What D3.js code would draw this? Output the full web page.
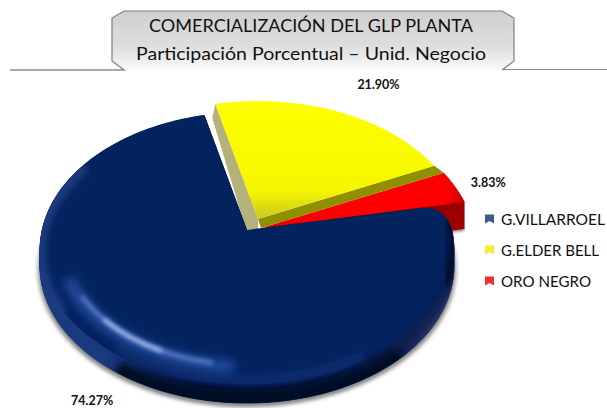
<!DOCTYPE html>
<!-- tilted 3D style pie, d3.pie gives the angles and each wedge is projected by hand -->
<html>
<head>
<meta charset="utf-8">
<style>
  html, body { margin: 0; padding: 0; background: #fff; }
  text { font-family: Lato, "Open Sans", sans-serif; fill: #111; }
</style>
</head>
<body>
<div id="graph_div"></div>

<script src="https://d3js.org/d3.v7.min.js"></script>

<script>

// data
const categories = ["G.VILLARROEL", "G.ELDER BELL", "ORO NEGRO"];
const values = [74.27, 21.90, 3.83];
const value_labels = ["74.27%", "21.90%", "3.83%"];
const title_lines = ["COMERCIALIZACIÓN DEL GLP PLANTA", "Participación Porcentual – Unid. Negocio"];

const width = 607, height = 408;

// look of each slice, same order as categories
const top_colors = ["#03235f", "#ffff00", "#fa0000"];
const legend_colors = ["#3c5a92", "#eeee30", "#f03030"];
const legend_widths = [104, 98, 90];
const title_widths = [324, 350];
const slice_shift = [[0, 0], [11, -11], [14, -2]];
const slice_radius = [1, 1, 1.04];
const slice_depth = [18, 0, 27];
const label_shift = [[-30, 48], [52, -33], [54, -3]];

const center = {x: 247, y: 230};
const rx = 205, ry = 134, persp = 0.1355;
const start_angle = 79 * Math.PI / 180;
const deg = Math.PI / 180;

let svg = d3.select("#graph_div").append("svg")
    .attr("width", width)
    .attr("height", height)
    .style("display", "block");
let defs = svg.append("defs");

function add_gradient(id, stops, horizontal) {
  let g = defs.append("linearGradient").attr("id", id)
    .attr("x1", 0).attr("y1", 0)
    .attr("x2", horizontal ? 1 : 0).attr("y2", horizontal ? 0 : 1);
  stops.forEach(s => g.append("stop").attr("offset", s[0]).attr("stop-color", s[1]));
}
add_gradient("box_fill", [[0, "#cfcfcf"], [0.6, "#dedede"], [1, "#fafafa"]], false);
add_gradient("navy_rim", [[0, "#1a3a80"], [0.15, "#1a3a80"], [0.4, "#02103a"], [0.85, "#081a4c"], [1, "#3e4a70"]], true);
add_gradient("red_rim", [[0, "#7a0000"], [0.7, "#8a0000"], [1, "#a00000"]], true);
add_gradient("red_top", [[0, "#e00000"], [0.3, "#ff0000"], [0.9, "#ff0000"], [1, "#c80000"]], true);
add_gradient("yellow_edge", [[0, "#ffff00"], [0.75, "#f6f600"], [1, "#c9c920"]], false);

[["blur1", 1], ["blur2", 2], ["blur3", 3], ["blur5", 5]].forEach(b => {
  defs.append("filter").attr("id", b[0])
    .attr("x", "-30%").attr("y", "-30%").attr("width", "160%").attr("height", "160%")
    .append("feGaussianBlur").attr("stdDeviation", b[1]);
});

// title box
let box_x = [112, 514], box_y = [11, 70], cut = 12;
let box_pts = [
  [box_x[0], box_y[1] - 9], [box_x[0], box_y[0] + 7], [box_x[0] + cut, box_y[0]],
  [box_x[1] - cut, box_y[0]], [box_x[1], box_y[0] + 7], [box_x[1], box_y[1] - 9],
  [box_x[1] - cut, box_y[1]], [box_x[0] + cut, box_y[1]]
];
svg.append("path")
    .attr("d", d3.line()(box_pts) + "Z")
    .attr("fill", "url(#box_fill)");
svg.append("path")
    .attr("d", d3.line()(box_pts.slice(0, 7)))
    .attr("fill", "none")
    .attr("stroke", "#7f7f7f")
    .attr("stroke-width", 1.2);
svg.append("path")
    .attr("d", d3.line()([[10, 70], [box_x[0] + cut, 70], [box_x[0], box_y[1] - 9]]))
    .attr("fill", "none").attr("stroke", "#8c8c8c").attr("stroke-width", 1.5);
svg.append("path")
    .attr("d", d3.line()([[box_x[1] - cut, 69.5], [width, 69.5]]))
    .attr("fill", "none").attr("stroke", "#8c8c8c").attr("stroke-width", 1);

svg.selectAll(".title_line")
  .data(title_lines)
  .enter().append("text")
    .attr("class", "title_line")
    .attr("x", 311)
    .attr("y", (d, i) => 32 + i * 28)
    .attr("text-anchor", "middle")
    .attr("font-size", 18)
    .attr("textLength", (d, i) => title_widths[i])
    .attr("lengthAdjust", "spacingAndGlyphs")
    .text(d => d);

// the tilted disc: angle and radius fraction to screen position
function project(angle, r) {
  let u = Math.sin(angle) * r,
      v = -Math.cos(angle) * r,
      s = 1 / (1 - persp * v);
  return [center.x + u * rx * s, center.y + v * ry * s];
}

function shifted(p, shift, dy) {
  return [p[0] + shift[0], p[1] + shift[1] + (dy || 0)];
}

function arc_points(a0, a1, r) {
  let n = Math.max(4, Math.ceil(Math.abs(a1 - a0) * 40));
  return d3.range(n + 1).map(i => project(a0 + (a1 - a0) * i / n, r));
}

function wedge_path(d, i, dy) {
  let pts = [[center.x, center.y]].concat(arc_points(d.startAngle, d.endAngle, slice_radius[i]));
  return d3.line()(pts.map(p => shifted(p, slice_shift[i], dy))) + "Z";
}

// the big slice has a rounded outer corner where it meets the red lip
function navy_path(d, dy) {
  let round = 10 * deg,
      a = shifted(project(d.startAngle, 0.88), [0, 0], dy),
      c = shifted(project(d.startAngle, 1), [0, 0], dy),
      b = shifted(project(d.startAngle + round, 1), [0, 0], dy),
      rest = arc_points(d.startAngle + round, d.endAngle, 1).map(p => [p[0], p[1] + dy]);
  return "M" + center.x + "," + (center.y + dy) +
    "L" + a + "Q" + c + " " + b +
    d3.line()(rest).replace("M", "L") + "Z";
}

let pie = d3.pie()
    .sort(null)
    .startAngle(start_angle)
    .endAngle(start_angle + 2 * Math.PI)
    .value(d => d);
let slices = pie(values);
let navy = slices[0], yellow = slices[1], red = slices[2];

let chart = svg.append("g").attr("id", "pie");

// soft grey shadow under the big slice and the red lip
[-2, 2].forEach(dx => {
  chart.append("path")
      .attr("transform", "translate(" + dx + ",0)")
      .attr("d", navy_path(navy, slice_depth[0] + 3))
      .attr("fill", "#8a8a8a")
      .attr("filter", "url(#blur2)");
});
chart.append("path")
    .attr("d", wedge_path(red, 2, slice_depth[2] + 2))
    .attr("fill", "#999")
    .attr("filter", "url(#blur1)");

// red slice
chart.append("g").selectAll("path")
  .data(d3.range(slice_depth[2], 0, -1))
  .enter().append("path")
    .attr("d", dy => wedge_path(red, 2, dy))
    .attr("fill", "url(#red_rim)");
chart.append("path")
    .attr("d", wedge_path(red, 2, 0))
    .attr("fill", "url(#red_top)");

// yellow slice with its two cut walls
let y_apex = shifted([center.x, center.y], slice_shift[1]),
    y_tip = shifted(project(yellow.startAngle, 1), slice_shift[1]),
    y_corner = shifted(project(yellow.endAngle, 1), slice_shift[1]),
    r_apex = shifted([center.x, center.y], slice_shift[2]),
    r_corner = shifted(project(red.startAngle, slice_radius[2]), slice_shift[2]);
chart.append("path")
    .attr("d", d3.line()([y_apex, y_corner, r_corner, r_apex]) + "Z")
    .attr("fill", "#8f8f00");
chart.append("path")
    .attr("d", d3.line()([y_tip, [y_tip[0] - 3, y_tip[1] + 14], [center.x - 1, center.y], [y_apex[0], y_apex[1] + 10], y_apex]) + "Z")
    .attr("fill", "#b4b27a");
chart.append("path")
    .attr("d", wedge_path(yellow, 1, 0))
    .attr("fill", "url(#yellow_edge)");

// navy slice: rim first, then the top face with a soft bevel
chart.append("g").selectAll("path")
  .data(d3.range(slice_depth[0], 0, -1))
  .enter().append("path")
    .attr("d", dy => navy_path(navy, dy))
    .attr("fill", "url(#navy_rim)")
    .attr("stroke", "url(#navy_rim)")
    .attr("stroke-width", 1);

defs.append("clipPath").attr("id", "navy_clip")
  .selectAll("path")
  .data([0, 6, 12, 18])
  .enter().append("path")
    .attr("d", dy => navy_path(navy, dy));

chart.append("path")
    .attr("d", navy_path(navy, 0))
    .attr("fill", top_colors[0]);

let rim_g = chart.append("g").attr("clip-path", "url(#navy_clip)");

function rim_stroke(a0, a1, r, dy, color, w, blur) {
  rim_g.append("path")
      .attr("d", d3.line()(arc_points(a0 * deg, a1 * deg, r).map(p => [p[0], p[1] + dy])))
      .attr("fill", "none")
      .attr("stroke", color)
      .attr("stroke-width", w)
      .attr("stroke-linecap", "round")
      .attr("filter", "url(#" + blur + ")");
}

// blurred bands over the hard line between face and rim
rim_stroke(238, 300, 1, 3, "#1a3a80", 12, "blur3");
rim_stroke(100, 150, 1, 4, "#0b1d50", 10, "blur3");
rim_stroke(140, 212, 1, 14, "#000a26", 18, "blur3");
rim_stroke(150, 215, 0.97, 0, "#0a2a6c", 10, "blur3");
rim_stroke(88, 112, 1, -3, "#03102e", 12, "blur3");
// the light streak on the lower left
rim_stroke(185, 245, 0.9, 0, "#24489a", 13, "blur5");
rim_stroke(190, 238, 0.885, 0, "#5d80c8", 4, "blur2");
rim_stroke(205, 226, 0.885, 0, "#bcd0f6", 3, "blur2");

// percentage labels sit just outside each slice
svg.selectAll(".value_label")
  .data(slices)
  .enter().append("text")
    .attr("class", "value_label")
    .attr("x", (d, i) => project((d.startAngle + d.endAngle) / 2, 1)[0] + label_shift[i][0])
    .attr("y", (d, i) => project((d.startAngle + d.endAngle) / 2, 1)[1] + label_shift[i][1])
    .attr("text-anchor", "middle")
    .attr("font-size", 12.5)
    .attr("font-weight", 700)
    .text((d, i) => value_labels[i]);

// legend
let legend_y = d3.scalePoint().domain(categories).range([219, 281]);
let legend = svg.selectAll(".legend_item")
  .data(categories)
  .enter().append("g")
    .attr("class", "legend_item")
    .attr("transform", d => "translate(485," + legend_y(d) + ")");
legend.append("path")
    .attr("d", "M0,-4.5L9,-4.5L9,4.5L4.5,2L0,4.5Z")
    .attr("fill", (d, i) => legend_colors[i]);
legend.append("text")
    .attr("x", 16)
    .attr("y", 5.5)
    .attr("font-size", 15)
    .attr("textLength", (d, i) => legend_widths[i])
    .attr("lengthAdjust", "spacingAndGlyphs")
    .text(d => d);

</script>
</body>
</html>
